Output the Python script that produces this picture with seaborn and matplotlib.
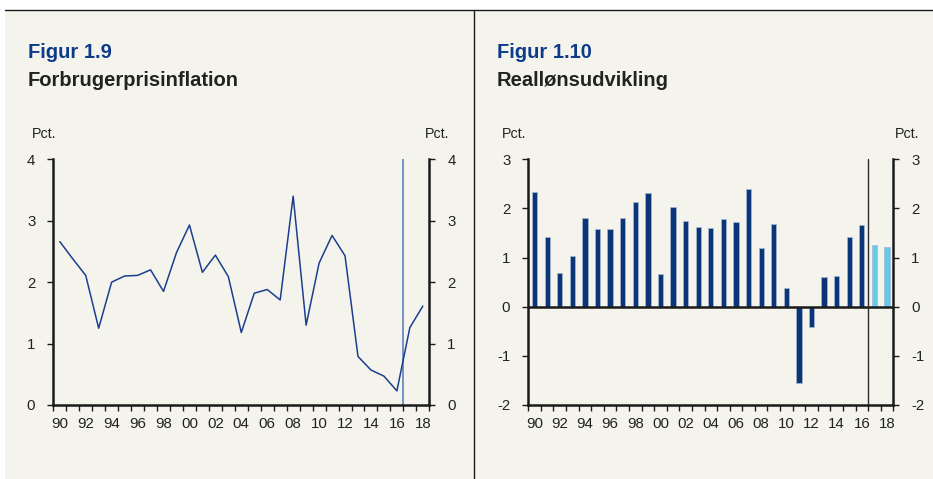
import numpy as np
import pandas as pd
import seaborn as sns
import matplotlib
matplotlib.use("Agg")
import matplotlib.pyplot as plt
from matplotlib.lines import Line2D

# --- data -------------------------------------------------------------
years = list(range(1990, 2019))
year_labels = ["90", "92", "94", "96", "98", "00", "02", "04", "06", "08",
               "10", "12", "14", "16", "18"]

# Consumer price inflation, pct.
inflation = [2.66, 2.38, 2.11, 1.25, 2.00, 2.10, 2.11, 2.20, 1.85, 2.48,
             2.93, 2.16, 2.44, 2.09, 1.18, 1.82, 1.88, 1.71, 3.40, 1.30,
             2.31, 2.76, 2.43, 0.79, 0.57, 0.47, 0.23, 1.26, 1.61]

# Real wage growth, pct. (2017-18 are projections)
real_wages = [2.34, 1.42, 0.69, 1.04, 1.80, 1.59, 1.59, 1.80, 2.14, 2.32,
              0.66, 2.03, 1.75, 1.62, 1.61, 1.78, 1.72, 2.39, 1.20, 1.68,
              0.39, -1.56, -0.42, 0.60, 0.63, 1.42, 1.66, 1.25, 1.21]
wage_kind = ["Faktisk"] * 27 + ["Prognose"] * 2

# --- style --------------------------------------------------------------
sns.set_theme(style="white")
plt.rcParams["font.family"] = ["Liberation Sans", "DejaVu Sans"]

BG = "#f5f4ec"
DARK = "#0a3579"
LIGHT = "#5ecdec"
TITLE_BLUE = "#0d3b8a"
TXT = "#222222"

fig = plt.figure(figsize=(9.33, 4.79), dpi=100, facecolor="white")

# panel background and frame lines
fig.patches.append(plt.Rectangle((5 / 933, 0), 1, 1 - 10 / 479,
                                 transform=fig.transFigure, facecolor=BG,
                                 edgecolor="none", zorder=-10))
fig.lines.append(Line2D([5 / 933, 1], [1 - 10 / 479, 1 - 10 / 479],
                        transform=fig.transFigure, color="#1a1a1a", lw=1.0))
fig.lines.append(Line2D([474.5 / 933, 474.5 / 933], [0, 1 - 10 / 479],
                        transform=fig.transFigure, color="#1a1a1a", lw=1.0))

ax_bottom = 1 - 405 / 479
ax_height = (405 - 159.3) / 479
axL = fig.add_axes([53.3 / 933, ax_bottom, (429.3 - 53.3) / 933, ax_height])
axR = fig.add_axes([528.3 / 933, ax_bottom, (893.3 - 528.3) / 933, ax_height])

df_inf = pd.DataFrame({"pos": np.arange(len(years)), "value": inflation})
df_wage = pd.DataFrame({"pos": [str(y) for y in years], "value": real_wages,
                        "kind": wage_kind})


def style_axis(ax, ymin, ymax):
    ax.set_facecolor(BG)
    ax.set_xlim(-0.5, len(years) - 0.5)
    ax.set_ylim(ymin, ymax)
    for side in ("left", "right", "bottom"):
        ax.spines[side].set_visible(True)
        ax.spines[side].set_color("#1a1a1a")
        ax.spines[side].set_linewidth(1.8)
    ax.spines["top"].set_visible(False)
    ax.set_yticks(np.arange(ymin, ymax + 1, 1))
    ax.set_yticklabels([str(v) for v in range(ymin, ymax + 1)])
    ax.tick_params(axis="y", which="major", left=True, right=True,
                   labelleft=True, labelright=True, direction="out",
                   length=4, width=1.0, color="#1a1a1a", pad=9,
                   labelsize=10.8, labelcolor=TXT)
    ax.set_xticks(np.arange(0, len(years), 2))
    ax.set_xticklabels(year_labels)
    ax.set_xticks(np.arange(-0.5, len(years), 1), minor=True)
    ax.tick_params(axis="x", which="major", length=0, pad=9,
                   labelsize=10.8, labelcolor=TXT)
    ax.tick_params(axis="x", which="minor", bottom=True, direction="out",
                   length=4, width=1.0, color="#1a1a1a")
    ax.set_xlabel("")
    ax.set_ylabel("")


# left: inflation line
sns.lineplot(data=df_inf, x="pos", y="value", ax=axL, color="#1b3f8e",
             lw=1.1, legend=False)
axL.axvline(26.5, color="#7393c4", lw=1.4, zorder=1)
style_axis(axL, 0, 4)

# right: real wage bars
sns.barplot(data=df_wage, x="pos", y="value", hue="kind", ax=axR,
            palette={"Faktisk": DARK, "Prognose": LIGHT}, dodge=False,
            saturation=1, width=0.42, edgecolor="#a9b9d3", linewidth=0.5,
            legend=False, zorder=2)
axR.axhline(0, color="#1a1a1a", lw=1.8, zorder=3)
axR.axvline(26.5, color="#2a2a2a", lw=1.0, zorder=3)
style_axis(axR, -2, 3)

# titles and unit labels
fig.text(28 / 933, 1 - 53 / 479, "Figur 1.9", color=TITLE_BLUE,
         fontsize=14.5, fontweight="bold", va="center", ha="left")
fig.text(28 / 933, 1 - 81 / 479, "Forbrugerprisinflation", color=TXT,
         fontsize=14.5, fontweight="bold", va="center", ha="left")
fig.text(497 / 933, 1 - 53 / 479, "Figur 1.10", color=TITLE_BLUE,
         fontsize=14.5, fontweight="bold", va="center", ha="left")
fig.text(497 / 933, 1 - 81 / 479, "Reallønsudvikling", color=TXT,
         fontsize=14.5, fontweight="bold", va="center", ha="left")

for x, ha in ((32, "left"), (449, "right"), (502, "left"), (919, "right")):
    fig.text(x / 933, 1 - 134 / 479, "Pct.", color=TXT, fontsize=10.3,
             va="center", ha=ha)

fig.savefig("out.png", dpi=100, facecolor="white")
